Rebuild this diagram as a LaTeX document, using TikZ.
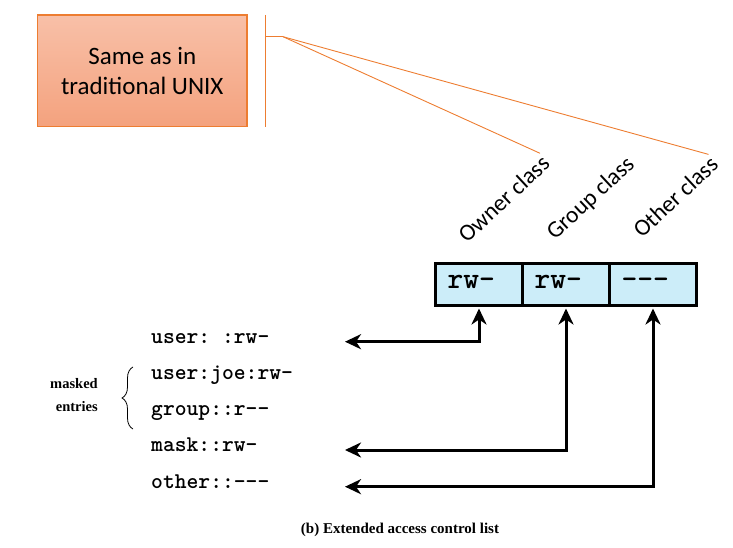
\documentclass[tikz,border=0pt]{standalone}
\usepackage{fontspec}
\setmainfont{Liberation Serif}
\newfontfamily\acltt{lmmonolt10-bold}[Extension=.otf]
\newfontfamily\calibri{Carlito}
\usetikzlibrary{arrows.meta,positioning,decorations.pathreplacing}
\definecolor{unixorange}{RGB}{237,125,49}
\definecolor{unixtop}{RGB}{248,192,168}
\definecolor{unixbot}{RGB}{244,162,126}
\definecolor{cellblue}{RGB}{204,237,249}
\begin{document}
\begin{tikzpicture}[x=1pt,y=-1pt,>={Stealth[length=16pt,width=15pt,inset=5pt]},
    unixbox/.style={draw=unixorange,line width=1.2pt,top color=unixtop,bottom color=unixbot,
        minimum width=209.5pt,minimum height=111.5pt,align=center,font=\calibri\fontsize{25}{30}\selectfont},
    cls/.style={rotate=43,anchor=base west,inner sep=0pt,font=\calibri\fontsize{23.5}{28}\selectfont},
    cell/.style={draw,line width=3pt,fill=cellblue,outer sep=0pt,minimum height=42pt,
        text width=63pt,inner xsep=12pt,align=left,text height=14pt,text depth=6.4pt,
        font=\acltt\fontsize{30}{32}\selectfont},
    entry/.style={anchor=base west,inner sep=0pt,font=\acltt\frenchspacing\fontsize{22.5}{24}\selectfont},
    acl/.style={<->,line width=3pt},
    lead/.style={draw=unixorange,line width=0.9pt}]
    \useasboundingbox (0,0) rectangle (733,548);
    % the traditional part
    \node[unixbox] (unix) at (142.25,70.75) {Same as in\\traditional UNIX};
    \coordinate (bartop) at (265.3,15);
    \coordinate (barbot) at (265.3,127);
    \coordinate (barmid) at (265.3,36.7);
    \coordinate (stub) at (283,36.7);
    \draw[lead] (bartop) -- (barbot);
    \draw[lead] (barmid) -- (stub);
    % class labels
    \node[cls] (lown) at (467,244) {Owner class};
    \node[cls] (lgrp) at (555,241) {Group class};
    \node[cls] (loth) at (642,239) {Other class};
    \draw[lead] (stub) -- (lown.north east);
    \draw[lead] (stub) -- (loth.north east);
    % permission bits
    \node[cell] (cown) at (479,284.5) {rw-};
    \node[cell,right=0pt of cown] (cgrp) {rw-};
    \node[cell,right=0pt of cgrp] (coth) {-{}-{}-};
    % acl entries
    \node[entry] (euser) at (151,343) {user: :rw-};
    \node[entry] (ejoe) at (151,379.3) {user:joe:rw-};
    \node[entry] (egroup) at (151,415.6) {group::r-{}-};
    \node[entry] (emask) at (151,451.9) {mask::rw-};
    \node[entry] (eother) at (151,488.2) {other::-{}-{}-};
    \coordinate (tuser) at (345,341.7);
    \coordinate (tmask) at (345,450);
    \coordinate (tother) at (345,486.7);
    \draw[acl,shorten >=3pt] (tuser) -| (cown.south);
    \draw[acl,shorten >=3pt] (tmask) -| (cgrp.south);
    \draw[acl,shorten >=3pt] (tother) -| (coth.south);
    % masked entries
    \coordinate (bbot) at (133,429);
    \coordinate (btop) at (133,367);
    \draw[line width=0.8pt,decorate,decoration={brace,amplitude=11pt}] (bbot) -- (btop);
    \node[align=right,font=\bfseries\fontsize{14.5}{23.7}\selectfont] (masked) at (74,395) {masked\\entries};
    \node[font=\bfseries\fontsize{15}{18}\selectfont] (caption) at (400,530) {(b) Extended access control list};
\end{tikzpicture}
\end{document}
